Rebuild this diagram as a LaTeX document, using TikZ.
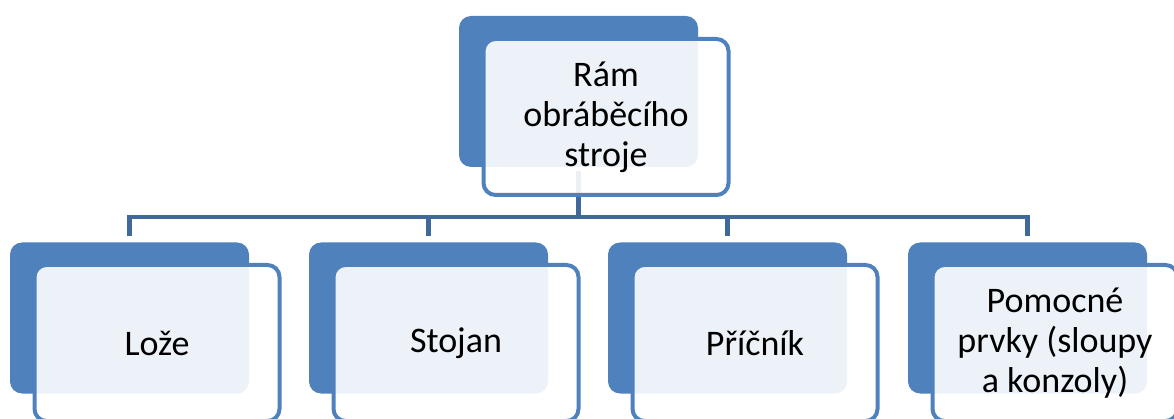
\documentclass[tikz,border=0pt]{standalone}
\usepackage{fontspec}
\setmainfont{Carlito}
\definecolor{boxblue}{HTML}{4F81BD}
\definecolor{connblue}{HTML}{41689B}
\begin{document}
\begin{tikzpicture}[x=1pt,y=-1pt,
  backbox/.style={fill=boxblue, draw=none, rounded corners=12pt, minimum width=239pt, minimum height=151pt, inner sep=0pt},
  frontbox/.style={fill=white, fill opacity=0.9, text opacity=1, draw=boxblue, line width=4pt, rounded corners=12pt, minimum width=245pt, minimum height=156pt, inner sep=0pt, align=center, font=\fontsize{36}{40}\selectfont, text=black},
  conn/.style={draw=connblue, line width=4.5pt}]
\useasboundingbox (0,0) rectangle (1174,419);
\clip (0,0) rectangle (1174,419);
\coordinate (bus) at (578,217);
% back boxes
\node[backbox] (tb) at (578.5,91.5) {};
\node[backbox] (b1) at (129.5,318) {};
\node[backbox] (b2) at (428.5,318) {};
\node[backbox] (b3) at (727.5,318) {};
\node[backbox] (b4) at (1027.5,318) {};
% connectors
\foreach \c in {b1,b2,b3,b4}{
  \draw[conn] ([yshift=-4pt]tb.south) -- (tb.south |- bus) -| ([yshift=6pt]\c.north);
}
% front boxes
\node[frontbox] (tf) at (606,117) {Rám\\obráběcího\\stroje};
\node[frontbox] (f1) at (157,343) {Lože};
\node[frontbox] (f2) at (456,343) {Stojan};
\node[frontbox] (f3) at (755,343) {Příčník};
\node[frontbox] (f4) at (1055,343) {Pomocné\\prvky (sloupy\\a konzoly)};
\end{tikzpicture}
\end{document}
